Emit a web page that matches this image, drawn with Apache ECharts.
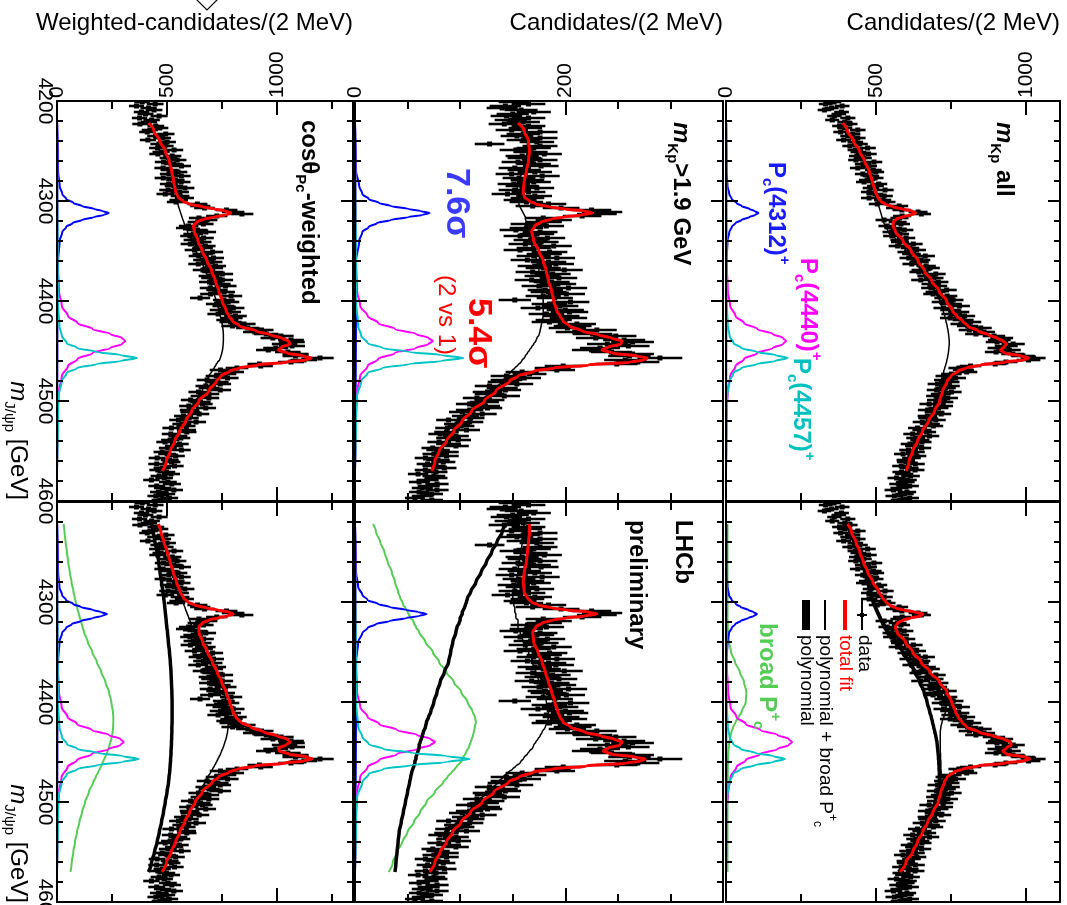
<!DOCTYPE html>
<html>
<head>
<meta charset="utf-8">
<script src="https://cdn.jsdelivr.net/npm/echarts@6/dist/echarts.min.js"></script>
<style>
  html, body { margin: 0; padding: 0; background: #fff; }
  #chart { width: 1067px; height: 905px; }
</style>
</head>
<body>
<div id="chart"></div>
<script>
// J/psi p invariant-mass spectra, drawn turned a quarter turn clockwise:
// mass runs downwards, candidates per bin run to the right.
const FONT = '"Liberation Sans", Arial, Helvetica, sans-serif';

// 2 MeV bin centres, 4201 ... 4599 MeV
const binCenters = Array.from({ length: 200 }, (_, i) => 4201 + 2 * i);

// cos(theta_Pc)-weighted candidates per bin
const weightedCounts = [
  387,446,361,416,441,384,402,464,375,430, 418,377,449,467,422,410,494,448,479,413,
  500,463,490,457,532,473,458,524,507,546, 484,529,566,482,512,550,508,565,483,538,
  564,508,531,581,505,557,492,559,579,553, 541,638,651,670,770,800,840,726,645,682,
  639,665,598,584,638,676,619,604,666,620, 656,606,674,662,625,707,662,644,711,665,
  704,642,720,707,663,708,751,691,703,751, 693,740,766,696,727,759,698,791,650,758,
  778,725,756,801,743,786,732,811,793,774, 789,850,798,867,929,899,951,1018,981,1063,
  1067,1034,1068,994,960,1049,1084,1084,1195,1122, 1063,920,926,818,743,799,765,724,775,682,
  731,742,676,691,742,643,690,653,690,607, 652,661,599,676,602,605,646,575,600,552,
  632,567,586,520,588,590,517,550,563,514, 491,556,532,503,565,478,500,539,455,512,
  520,453,534,478,458,497,518,464,487,429, 504,522,453,480,531,461,497,449,510,469
];
// candidates with m_Kp > 1.9 GeV
const highMkpCounts = [
  152,165,143,140,158,170,150,144,165,148, 160,142,165,162,149,176,160,154,176,160,
  173,128,176,170,153,167,180,159,161,176, 155,170,177,152,161,171,149,178,156,164,
  170,151,159,173,152,165,145,171,164,157, 163,184,169,196,225,235,230,216,179,189,
  180,164,182,163,153,176,173,157,183,167, 177,162,189,170,157,185,180,170,192,164,
  184,191,171,179,199,169,188,178,194,168, 187,193,175,203,181,184,201,179,190,152,
  205,185,195,174,200,204,182,196,203,189, 185,211,207,202,230,209,226,248,229,256,
  264,240,260,233,225,244,264,261,290,257, 269,249,198,188,192,159,166,144,161,144,
  141,154,128,140,143,126,128,142,116,128, 123,109,124,126,109,102,121,105,110,89,
  109,97,101,88,106,87,81,96,89,98, 80,89,96,74,79,87,75,87,67,79,
  84,69,75,85,67,77,60,75,77,69, 61,78,70,64,78,61,73,64,57,73
];
// all m_Kp
const allCounts = [
  360,332,387,352,328,385,376,361,406,354, 396,413,378,396,439,382,422,406,439,392,
  431,446,413,472,431,441,475,436,459,433, 493,456,476,439,491,499,456,483,497,470,
  460,509,498,483,530,477,496,527,477,522, 536,504,577,563,586,640,651,587,578,527,
  572,583,537,557,594,551,580,553,600,578, 580,624,572,613,635,602,618,664,609,649,
  644,619,667,680,650,643,699,670,692,649, 708,684,704,683,735,698,690,737,728,757,
  719,751,778,725,748,776,752,795,747,790, 815,783,805,849,811,860,833,893,919,911,
  903,957,934,909,944,900,956,990,1025,1008, 933,897,815,776,791,802,751,732,765,727,
  744,705,745,732,702,751,716,700,739,703, 724,677,723,708,672,695,717,671,673,699,
  654,680,691,638,653,668,622,678,632,646, 653,613,628,652,608,631,590,636,618,599,
  600,631,584,611,630,585,594,615,568,605, 598,574,612,578,558,603,595,561,612,579
];

// mass points at which the fit curves are tabulated
const fitMass = [4222,4230,4240,4250,4260,4270,4280,4290,
  4296,4300,4303,4306,4308,4310,4312,4314,4316,4318,
  4321,4325,4330,4340,4350,4360,4370,4380,4390,4400,
  4410,4415,4420,4425,4430,4434,4437,4440,4443,4446,
  4449,4452,4455,4457,4459,4461,4464,4467,4470,4475,
  4480,4490,4500,4510,4520,4530,4540,4550,4560,4570];

// three-peak fits
const weightedFitTop = [416,441,467,492,510,521,530,538, 550,572,600,665,715,765,790,765,715,670, 635,620,624,641,660,682,703,720,735,751, 769,781,798,830,905,972,1020,1052,1060,1022, 1005,1045,1120,1155,1130,1045,910,830,785,745, 725,690,645,612,585,558,535,515,497,479];
const weightedPolyTop = [416,440,465,488,505,517,526,534, 540,545,549,553,556,559,562,565,568,571, 576,583,592,612,633,655,675,694,710,723, 736,742,748,752,755,756,756,756,755,754, 752,749,745,742,739,730,722,714,705,690, 680,660,632,605,580,555,533,513,496,478];
const mkpFitTop = [155,161,165,166,165,163,161,160, 161,166,172,185,200,218,226,215,199,187, 177,171,168,170,175,179,182,184,187,189, 192,195,198,204,216,232,244,254,253,241, 235,245,268,278,275,262,222,189,171,155, 147,134,123,111,102,94,87,80,76,73];
const mkpPolyTop = [155,160,164,164,162,159,156,154, 154,155,156,157,158,159,160,161,162,162, 163,164,165,167,170,173,175,177,178,179, 179,179,178,177,176,175,173,172,170,168, 166,164,162,161,159,158,155,152,149,145, 140,130,120,110,101,93,86,80,76,73];
const allFitTop = [389,405,425,445,462,477,487,497, 505,515,530,558,588,620,632,615,588,568, 558,557,564,590,617,640,662,686,710,735, 755,769,788,806,840,876,902,924,935,926, 915,928,985,1008,990,930,850,800,773,750, 737,722,712,695,675,655,638,622,610,600];
const allPolyTop = [388,404,423,441,458,472,484,495, 500,504,507,510,512,514,516,518,520,522, 525,530,540,570,600,628,652,675,695,712, 724,729,733,737,740,742,743,744,744,743, 742,741,739,738,736,735,732,729,726,721, 717,710,702,688,670,652,635,620,608,598];

// fits with an extra broad state
const weightedFitBot = [460,472,486,501,514,528,543,560, 575,595,625,680,730,780,800,775,730,690, 660,645,645,662,684,706,728,748,768,785, 800,812,835,880,940,1000,1045,1060,1040,1007, 1010,1055,1135,1158,1120,1035,900,822,782,735, 705,660,628,603,580,558,539,519,498,477];
const weightedPolyBot = [430,437,445,455,462,468,475,481, 485,487,489,490,491,492,493,494,495,496, 497,499,502,506,511,515,518,520,522,523, 523,523,523,522,522,521,521,520,520,519, 518,518,517,516,516,515,514,513,512,509, 507,500,492,484,475,465,455,443,430,415];
const weightedBroadBot = [30,34,39,45,51,58,66,75, 81,85,88,92,94,97,99,102,104,107, 111,116,123,140,160,181,201,220,236,247, 254,256,256,255,253,250,247,243,239,235, 230,225,219,215,211,207,201,194,187,176, 165,145,128,114,102,91,82,74,67,61];
const weightedPolyBroadBot = [460,471,484,500,513,526,541,556, 566,572,577,582,585,589,592,596,599,603, 608,615,625,646,671,696,719,740,758,770, 777,779,779,777,775,771,768,763,759,754, 748,743,736,731,727,722,715,707,699,685, 672,645,620,598,577,556,537,517,497,476];
const mkpFitBot = [166,166,165,164,163,161,160,161, 164,168,174,187,202,222,230,218,201,188, 178,172,169,170,174,178,181,184,187,190, 193,195,198,205,218,234,246,254,252,241, 236,244,266,276,272,258,220,188,170,156, 146,132,121,110,101,93,87,81,76,71];
const mkpPolyBot = [144,140,135,130,125,120,115,110, 107,106,105,104,103,102,102,101,100,100, 99,97,96,93,91,89,85,81,78,75, 72,70,68,67,65,64,63,62,61,61, 60,59,58,58,57,57,56,55,54,53, 52,50,48,46,44,42,41,40,39,38];
const mkpBroadBot = [17,20,24,28,31,35,38,41, 43,45,46,48,49,50,51,52,53,55, 56,58,61,67,74,80,87,94,101,107, 112,114,115,114,113,112,111,110,109,108, 106,105,103,102,101,100,97,95,92,88, 84,76,68,62,56,50,45,40,36,32];
const mkpPolyBroadBot = [161,160,159,158,156,155,153,151, 150,151,151,152,152,152,153,153,153,155, 155,155,157,160,165,169,172,175,179,182, 184,184,183,181,178,176,174,172,170,169, 166,164,161,160,158,157,153,150,146,141, 136,126,116,108,100,92,86,80,75,70];
const allFitBot = [405,418,433,446,458,472,490,510, 522,533,545,566,590,630,656,648,615,590, 572,564,570,598,622,650,680,712,736,752, 765,774,786,802,842,890,925,948,950,935, 922,935,995,1012,990,930,840,790,760,737, 728,716,707,690,672,655,638,622,600,580];
const allPolyBot = [400,412,426,439,451,462,472,480, 485,490,494,498,501,504,507,510,513,516, 521,528,537,565,588,610,630,646,660,670, 679,684,688,692,696,699,701,703,704,705, 706,707,708,708,709,709,710,710,711,711, 711,708,700,684,667,650,633,617,595,575];
const allBroadBot = [5,5,5,5,5,5,5,5, 5,5,5,5,5,5,5,5,5,5, 6,6,7,10,17,30,46,60,68,66, 52,42,32,24,18,15,13,11,10,9, 8,8,7,7,7,7,6,6,6,6, 5,5,5,5,5,5,5,5,5,5];
const allPolyBroadBot = [405,417,431,444,456,467,477,485, 490,495,499,503,506,509,512,515,518,521, 527,534,544,575,605,640,676,706,728,736, 731,726,720,716,714,714,714,714,714,714, 714,715,715,715,716,716,716,716,717,717, 716,713,705,689,672,655,638,622,600,580];

// narrow states, each on its own mass points
const peak4312Mass = [4222,4270,4285,4293,4298,4302,4305,4308,4310,4312,4314,4316,4319,4322,4326,4331,4340,4360,4400,4570];
const peak4440Mass = [4222,4360,4390,4405,4415,4422,4428,4433,4437,4440,4443,4447,4452,4458,4465,4475,4490,4510,4570];
const peak4457Mass = [4222,4400,4425,4435,4442,4447,4451,4454,4457,4460,4463,4467,4472,4480,4495,4520,4570];

const weightedP4312Top = [1,5,12,24,42,75,113,169,207,235,212,169,113,71,42,24,12,5,2,0];
const weightedP4440Top = [0,3,9,22,50,93,161,242,295,310,295,242,161,93,50,22,9,3,0];
const weightedP4457Top = [0,4,11,22,44,91,182,290,363,290,182,91,44,22,7,4,0];
const weightedP4312Bot = [1,5,11,23,41,73,109,163,200,227,204,163,109,68,41,23,11,5,2,0];
const weightedP4440Bot = [0,3,9,21,48,91,158,236,288,303,288,236,158,91,48,21,9,3,0];
const weightedP4457Bot = [0,4,11,22,45,93,186,297,371,297,186,93,45,22,7,4,0];
const mkpP4312Top = [0,1,4,7,13,23,34,51,62,71,64,51,34,21,13,7,4,1,1,0];
const mkpP4440Top = [0,1,2,5,12,22,38,58,70,74,70,58,38,22,12,5,2,1,0];
const mkpP4457Top = [0,1,3,6,12,26,52,82,103,82,52,26,12,6,2,1,0];
const mkpP4312Bot = [0,1,3,7,12,22,33,49,60,68,61,49,33,20,12,7,3,1,1,0];
const mkpP4440Bot = [0,1,2,5,12,23,40,59,72,76,72,59,40,23,12,5,2,1,0];
const mkpP4457Bot = [0,1,3,7,13,27,55,87,109,87,55,27,13,7,2,1,0];
const allP4312Top = [1,2,5,11,19,35,52,78,95,108,97,78,52,32,19,11,5,2,1,0];
const allP4440Top = [0,2,6,14,32,60,104,156,190,200,190,156,104,60,32,14,6,2,0];
const allP4457Top = [0,2,6,12,25,51,103,164,205,164,103,51,25,12,4,2,0];
const allP4312Bot = [1,2,5,10,19,33,49,74,91,103,93,74,49,31,19,10,5,2,1,0];
const allP4440Bot = [0,2,7,15,35,66,114,172,209,220,209,172,114,66,35,15,7,2,0];
const allP4457Bot = [0,2,6,12,24,49,98,157,196,157,98,49,24,12,4,2,0];

// axis ranges and ticks
const massMin = 4200, massMax = 4600, massStep = 100;
const weightedMax = 1345, mkpMax = 350, allMax = 1113;

const C = {
  red: '#ff0000', blue: '#0000ff', magenta: '#ff00ff', cyan: '#00c4c4',
  green: '#55cc55', black: '#000000'
};

// ---------- panel layout ----------
const panels = [
  { left: 57,  top: 101, width: 296, max: weightedMax, major: 500, minor: 250, countLabels: true,  massLabels: true,  hideMin: false },
  { left: 355, top: 101, width: 368, max: mkpMax,      major: 200, minor: 50,  countLabels: true,  massLabels: false, hideMin: false },
  { left: 726, top: 101, width: 334, max: allMax,      major: 500, minor: 250, countLabels: true,  massLabels: false, hideMin: false },
  { left: 57,  top: 502, width: 296, max: weightedMax, major: 500, minor: 250, countLabels: false, massLabels: true,  hideMin: true },
  { left: 355, top: 502, width: 368, max: mkpMax,      major: 200, minor: 50,  countLabels: false, massLabels: false, hideMin: true },
  { left: 726, top: 502, width: 334, max: allMax,      major: 500, minor: 250, countLabels: false, massLabels: false, hideMin: true }
];

const grid = [], xAxis = [], yAxis = [];
const lineBlack = { color: '#000', width: 2 };

panels.forEach((p, g) => {
  grid.push({ left: p.left, top: p.top, width: p.width, height: 400, outerBoundsMode: 'none', containLabel: false });
  const countAxis = (pos, interval, len, labels, line) => ({
    type: 'value', gridIndex: g, position: pos, min: 0, max: p.max, interval: interval, z: 10,
    axisLine: { show: line, onZero: false, lineStyle: lineBlack },
    axisTick: { show: true, inside: true, length: len, lineStyle: lineBlack },
    minorTick: { show: false }, splitLine: { show: false }, minorSplitLine: { show: false },
    axisLabel: {
      show: labels, rotate: -90, margin: 3, fontSize: 21, fontFamily: FONT, color: '#000',
      showMinLabel: true, showMaxLabel: false, formatter: v => String(v)
    }
  });
  xAxis.push(countAxis('top', p.major, 14, p.countLabels, true));
  xAxis.push(countAxis('top', p.minor, 8, false, false));
  xAxis.push(countAxis('bottom', p.major, 14, false, true));
  xAxis.push(countAxis('bottom', p.minor, 8, false, false));

  const massAxis = (pos, labels) => ({
    type: 'value', gridIndex: g, position: pos, inverse: true, z: 10,
    min: massMin, max: massMax, interval: massStep,
    axisLine: { show: true, onZero: false, lineStyle: lineBlack },
    axisTick: { show: true, inside: true, length: 12, lineStyle: lineBlack },
    minorTick: { show: true, splitNumber: 5, length: 6, lineStyle: lineBlack },
    splitLine: { show: false }, minorSplitLine: { show: false },
    axisLabel: {
      show: labels, rotate: -90, margin: 2, fontSize: 21, fontFamily: FONT, color: '#000',
      showMinLabel: !p.hideMin, showMaxLabel: true, formatter: v => String(v)
    }
  });
  yAxis.push(massAxis('left', p.massLabels));
  yAxis.push(massAxis('right', false));
});

// ---------- series ----------
const series = [];

function dataSeries(g, counts, errScale) {
  series.push({
    type: 'custom', xAxisIndex: 4 * g, yAxisIndex: 2 * g, clip: true, silent: true, z: 2,
    encode: { x: 0, y: 1 },
    data: counts.map((v, i) => [v, binCenters[i], errScale * Math.sqrt(v)]),
    renderItem: (params, api) => {
      const v = api.value(0), m = api.value(1), e = api.value(2);
      const c = api.coord([v, m]);
      const lo = api.coord([v - e, m]);
      const hi = api.coord([v + e, m]);
      const b0 = api.coord([v, m - 1]);
      const b1 = api.coord([v, m + 1]);
      return {
        type: 'group',
        children: [
          { type: 'line', shape: { x1: lo[0], y1: c[1], x2: hi[0], y2: c[1] }, style: { stroke: '#000', lineWidth: 2.6 } },
          { type: 'line', shape: { x1: c[0], y1: b0[1], x2: c[0], y2: b1[1] }, style: { stroke: '#000', lineWidth: 3 } },
          { type: 'rect', shape: { x: c[0] - 2.5, y: c[1] - 2.5, width: 5, height: 5 }, style: { fill: '#000' } }
        ]
      };
    }
  });
}

function curve(g, masses, values, color, width, z) {
  series.push({
    type: 'line', xAxisIndex: 4 * g, yAxisIndex: 2 * g,
    data: masses.map((m, i) => [values[i], m]),
    showSymbol: false, symbol: 'none', smooth: 0.35, smoothMonotone: 'y',
    lineStyle: { color: color, width: width }, clip: true, silent: true, z: z
  });
}

function peaks(g, p1, p2, p3) {
  curve(g, peak4312Mass, p1, C.blue, 2, 3);
  curve(g, peak4440Mass, p2, C.magenta, 2, 3);
  curve(g, peak4457Mass, p3, C.cyan, 2, 4);
}

// top row: polynomial + three narrow states
dataSeries(0, weightedCounts, 1.8);
curve(0, fitMass, weightedPolyTop, C.black, 1.5, 4);
peaks(0, weightedP4312Top, weightedP4440Top, weightedP4457Top);
curve(0, fitMass, weightedFitTop, C.red, 3, 6);

dataSeries(1, highMkpCounts, 1.25);
curve(1, fitMass, mkpPolyTop, C.black, 1.5, 4);
peaks(1, mkpP4312Top, mkpP4440Top, mkpP4457Top);
curve(1, fitMass, mkpFitTop, C.red, 3, 6);

dataSeries(2, allCounts, 1.25);
curve(2, fitMass, allPolyTop, C.black, 1.5, 4);
peaks(2, allP4312Top, allP4440Top, allP4457Top);
curve(2, fitMass, allFitTop, C.red, 3, 6);

// bottom row: with a broad state added
dataSeries(3, weightedCounts, 1.8);
curve(3, fitMass, weightedBroadBot, C.green, 2, 3);
curve(3, fitMass, weightedPolyBot, C.black, 3.5, 4);
curve(3, fitMass, weightedPolyBroadBot, C.black, 1.5, 4);
peaks(3, weightedP4312Bot, weightedP4440Bot, weightedP4457Bot);
curve(3, fitMass, weightedFitBot, C.red, 3, 6);

dataSeries(4, highMkpCounts, 1.25);
curve(4, fitMass, mkpBroadBot, C.green, 2, 3);
curve(4, fitMass, mkpPolyBot, C.black, 3.5, 4);
curve(4, fitMass, mkpPolyBroadBot, C.black, 1.5, 4);
peaks(4, mkpP4312Bot, mkpP4440Bot, mkpP4457Bot);
curve(4, fitMass, mkpFitBot, C.red, 3, 6);

dataSeries(5, allCounts, 1.25);
curve(5, fitMass, allBroadBot, C.green, 2, 3);
curve(5, fitMass, allPolyBot, C.black, 3.5, 4);
curve(5, fitMass, allPolyBroadBot, C.black, 1.5, 4);
peaks(5, allP4312Bot, allP4440Bot, allP4457Bot);
curve(5, fitMass, allFitBot, C.red, 3, 6);

// ---------- text ----------
function richSet(size, weight, color) {
  const small = Math.round(size * 0.64);
  const base = { fontFamily: FONT, fontWeight: weight, fill: color };
  return {
    n:   Object.assign({}, base, { fontSize: size, lineHeight: size + 8, verticalAlign: 'middle' }),
    i:   Object.assign({}, base, { fontSize: size, fontStyle: 'italic', lineHeight: size + 8, verticalAlign: 'middle' }),
    sub: Object.assign({}, base, { fontSize: small, lineHeight: small, verticalAlign: 'bottom' }),
    sup: Object.assign({}, base, { fontSize: small, lineHeight: small, verticalAlign: 'top' })
  };
}
// text turned clockwise so that it reads downwards
function vText(x, y, text, size, weight, color, align) {
  return {
    type: 'text', x: x, y: y, rotation: -Math.PI / 2, silent: true, z: 100,
    style: {
      text: text, fontFamily: FONT, fontSize: size, fontWeight: weight, fill: color,
      align: align || 'left', verticalAlign: 'middle', rich: richSet(size, weight, color)
    }
  };
}
function hText(x, y, text, size) {
  return {
    type: 'text', x: x, y: y, silent: true, z: 100,
    style: { text: text, fontFamily: FONT, fontSize: size, fill: '#000', align: 'right', verticalAlign: 'middle' }
  };
}
function seg(x1, y1, x2, y2, color, w) {
  return { type: 'line', silent: true, z: 100, shape: { x1, y1, x2, y2 }, style: { stroke: color, lineWidth: w } };
}

const graphic = [
  // count-axis titles
  hText(353, 23, 'Weighted-candidates/(2 MeV)', 24),
  hText(723, 23, 'Candidates/(2 MeV)', 24),
  hText(1060, 23, 'Candidates/(2 MeV)', 24),
  // mass-axis titles
  vText(18, 500, '{i|m}{sub|J/ψp}{n| [GeV]}', 24, 'normal', '#000', 'right'),
  vText(18, 903, '{i|m}{sub|J/ψp}{n| [GeV]}', 24, 'normal', '#000', 'right'),
  // panel captions
  vText(309, 120, '{n|cosθ}{sub|Pc}{n|-weighted}', 24, 'bold', '#000'),
  vText(681, 122, '{i|m}{sub|Kp}{n|>1.9 GeV}', 24, 'bold', '#000'),
  vText(1004, 122, '{i|m}{sub|Kp}{n| all}', 24, 'bold', '#000'),
  vText(683, 520, '{n|LHCb}', 24, 'bold', '#000'),
  vText(637, 520, '{n|preliminary}', 24, 'bold', '#000'),
  // significances
  vText(456, 168, '{n|7.6σ}', 34, 'bold', '#3b3bff'),
  vText(478, 298, '{n|5.4σ}', 34, 'bold', C.red),
  vText(446, 275, '{n|(2 vs 1)}', 24, 'normal', C.red),
  // state names
  vText(776, 162, '{n|P}{sub|c}{n|(4312)}{sup|+}', 24, 'bold', '#1a1aff'),
  vText(808, 258, '{n|P}{sub|c}{n|(4440)}{sup|+}', 24, 'bold', C.magenta),
  vText(801, 358, '{n|P}{sub|c}{n|(4457)}{sup|+}', 24, 'bold', '#00c0c0'),
  vText(767, 623, '{n|broad P}{sup|+}{sub|c}', 24, 'bold', C.green),
  // key
  seg(862, 600, 862, 630, '#000', 2),
  seg(857, 615, 867, 615, '#000', 2),
  { type: 'rect', silent: true, z: 100, shape: { x: 860, y: 613, width: 4, height: 4 }, style: { fill: '#000' } },
  seg(845, 600, 845, 630, C.red, 4),
  seg(825, 600, 825, 630, '#000', 2),
  seg(806, 600, 806, 630, '#000', 8),
  vText(864, 635, '{n|data}', 19, 'normal', '#000'),
  vText(845, 635, '{n|total fit}', 19, 'normal', C.red),
  vText(825, 635, '{n|polynomial + broad P}{sup|+}{sub|c}', 19, 'normal', '#000'),
  vText(806, 635, '{n|polynomial}', 19, 'normal', '#000'),
  // small marker at the top edge
  { type: 'polyline', silent: true, z: 100, shape: { points: [[195, -2], [207, 10], [219, -2]] }, style: { stroke: '#000', lineWidth: 1.2, fill: 'none' } }
];

const chart = echarts.init(document.getElementById('chart'), null, { renderer: 'canvas' });
chart.setOption({
  animation: false,
  backgroundColor: '#fff',
  grid: grid,
  xAxis: xAxis,
  yAxis: yAxis,
  series: series,
  graphic: graphic
});
</script>
</body>
</html>
